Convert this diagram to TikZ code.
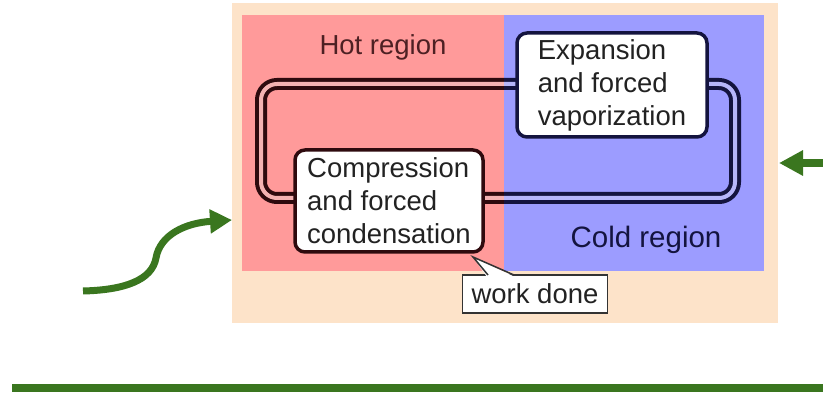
\documentclass[tikz,border=0pt]{standalone}
\usepackage{fontspec}
\setmainfont{Liberation Sans}
\usetikzlibrary{arrows.meta}
\definecolor{peach}{HTML}{FDE3C9}
\definecolor{hotred}{HTML}{FF9A9A}
\definecolor{coldblue}{HTML}{9C9CFF}
\definecolor{darkmaroon}{HTML}{2E0A0E}
\definecolor{darknavy}{HTML}{14143F}
\definecolor{grn}{HTML}{3A761F}
\definecolor{hotgap}{HTML}{F4B2B2}
\definecolor{coldgap}{HTML}{B6B6FA}
\definecolor{boxtext}{HTML}{222222}
\begin{document}
\begin{tikzpicture}[x=1pt,y=-1pt,
  every node/.style={font=\fontsize{27.5}{33}\selectfont},
  procbox/.style={fill=white, line width=3.5pt, rounded corners=10pt, inner sep=0pt,
    align=left, text=boxtext},
  regionlabel/.style={inner sep=0pt},
  loopouter/.style={line width=12pt, rounded corners=16pt},
  loopinner/.style={line width=4pt, rounded corners=16pt},
  greenarrow/.style={draw=grn, line width=7pt},
]
\useasboundingbox (0,0) rectangle (823,393);
% backgrounds
\fill[peach] (232,3) rectangle (778,323);
\fill[hotred] (242,15) rectangle (504,271);
\fill[coldblue] (504,15) rectangle (764,271);
% loop, hot part
\begin{scope}
  \clip (0,0) rectangle (504,393);
  \draw[loopouter, darkmaroon] (261,84) rectangle (735,198);
  \draw[loopinner, hotgap] (261,84) rectangle (735,198);
\end{scope}
% loop, cold part
\begin{scope}
  \clip (504,0) rectangle (823,393);
  \draw[loopouter, darknavy] (261,84) rectangle (735,198);
  \draw[loopinner, coldgap] (261,84) rectangle (735,198);
\end{scope}
% region labels
\node[regionlabel, text=darkmaroon!85!hotred] (hotlabel) at (383,47) {Hot region};
\node[regionlabel, text=darknavy, font=\fontsize{29.5}{33}\selectfont] (coldlabel) at (646,240) {Cold region};
% process boxes
\node[procbox, draw=darkmaroon, minimum width=188pt, minimum height=102pt] (comp) at (389,201)
  {Compression\\and forced\\condensation};
\node[procbox, draw=darknavy, minimum width=190pt, minimum height=104pt] (expn) at (612,85)
  {Expansion\\and forced\\vaporization};
% work done callout
\node[fill=white, draw=black!80, line width=1.5pt, minimum width=145pt, minimum height=38pt,
  inner sep=0pt, text=boxtext] (work) at (535,294) {work done};
\coordinate (tip) at (473,257);
\coordinate (pl) at (488,275);
\coordinate (pr) at (514,275);
\fill[white] (487,277) -- (tip) -- (515,277) -- cycle;
\draw[black!80, line width=1.5pt, line join=miter] (pl) -- (tip) -- (pr);
% green arrows
\coordinate (ls) at (83,291);
\coordinate (lk) at (156,258);
\coordinate (le) at (232,220);
\draw[greenarrow, -{Triangle[length=22pt,width=23pt]}]
  (ls) .. controls (125,290) and (152,280) .. (lk)
       .. controls (160,235) and (185,223) .. (le);
\coordinate (rs) at (823,163);
\coordinate (re) at (779,163);
\draw[greenarrow, line width=8.5pt, -{Triangle[length=24pt,width=24pt]}] (rs) -- (re);
\coordinate (bl) at (12,388);
\coordinate (br) at (823,388);
\draw[draw=grn, line width=8pt] (bl) -- (br);
\end{tikzpicture}
\end{document}
